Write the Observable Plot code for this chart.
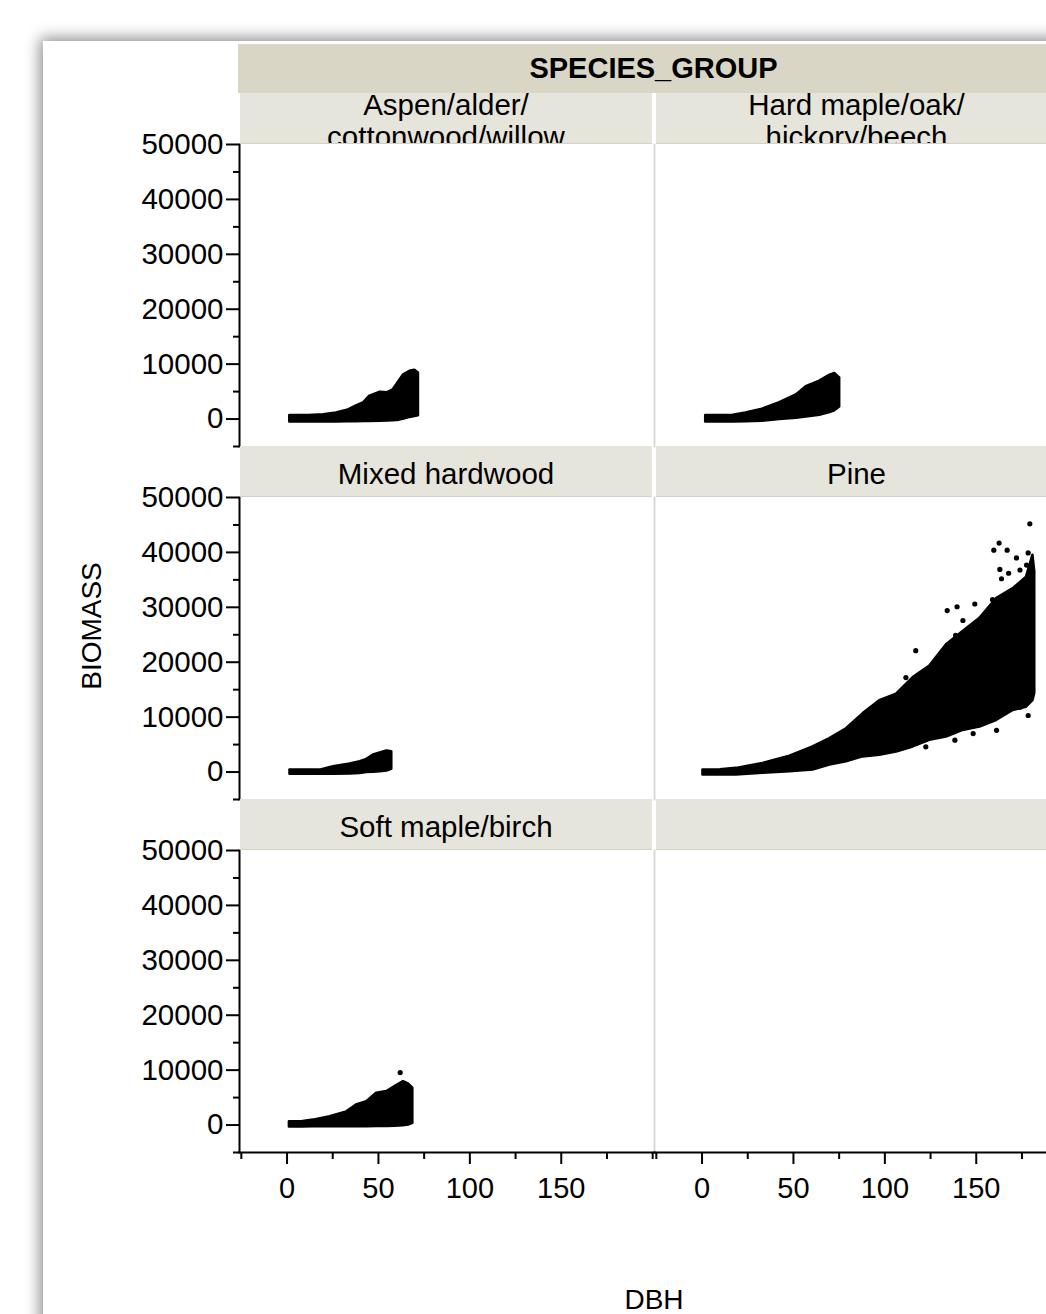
<!DOCTYPE html>
<html>
<head>
<meta charset="utf-8">
<script src="https://cdn.jsdelivr.net/npm/d3@7"></script>
<script src="https://cdn.jsdelivr.net/npm/@observablehq/plot@0.6"></script>
<style>
  html, body { margin: 0; padding: 0; background: #fff; width: 1046px; height: 1314px; overflow: hidden;
    font-family: "Liberation Sans", Arial, sans-serif; color: #000; }
  #panel { position: absolute; left: 43px; top: 41px; width: 1200px; height: 1400px; background: #fff;
    box-shadow: 0 0 14px 3px rgba(0,0,0,0.45); }
  #chart { position: absolute; left: 0; top: 0; }
  .strip { position: absolute; background: #e6e5dc; border-bottom: 1px solid #d3d1c5; box-sizing: border-box;
    display: flex; align-items: center; justify-content: center; text-align: center; overflow: hidden;
    white-space: pre-line; font-size: 29.5px; line-height: 32px; padding-top: 5px; }
  .header { position: absolute; background: #d9d6c6; box-sizing: border-box; display: flex; align-items: center;
    justify-content: center; font-size: 29px; font-weight: bold; overflow: hidden; }
  .lab { position: absolute; font-size: 28px; white-space: nowrap; }
</style>
</head>
<body>
<div id="panel"></div>
<div id="chart"></div>
<div id="overlay"></div>
<script>
// ---- categories ----
const groupTitle = "SPECIES_GROUP";
const speciesNames = ["Aspen/alder/\ncottonwood/willow", "Hard maple/oak/\nhickory/beech", "Mixed hardwood", "Pine", "Soft maple/birch"];
const xLabel = "DBH";
const yLabel = "BIOMASS";

// ---- ticks ----
const yMajor = [0, 10000, 20000, 30000, 40000, 50000];
const yMinor = [-5000, 5000, 15000, 25000, 35000, 45000];
const xMajor = [0, 50, 100, 150];
const xMinor = [-25, 25, 75, 125, 175, 200];

// ---- dense point clouds: DBH with lower / upper edge of BIOMASS ----
const aspenDbh  = [1.5, 12, 20, 27, 33, 38, 42, 45, 51, 55, 58, 61.5, 63.6, 67.2, 69.9, 71.9];
const aspenLow  = [-550, -550, -550, -550, -500, -500, -450, -450, -400, -350, -300, -200, -50, 300, 450, 600];
const aspenHigh = [650, 650, 800, 1100, 1600, 2400, 3000, 4100, 4900, 4800, 5300, 7000, 8000, 8700, 8900, 8400];

const hardDbh  = [2, 10, 17, 24, 33, 42.5, 51.6, 57, 64.4, 70, 72.6, 75.3];
const hardLow  = [-550, -550, -550, -500, -400, -100, 150, 350, 700, 1200, 1500, 2200];
const hardHigh = [650, 650, 700, 1100, 1800, 3000, 4400, 5900, 6900, 8000, 8300, 7500];

const mixedDbh  = [1.6, 10, 18, 25.4, 34.5, 40, 43.6, 47.3, 51, 54.6, 57.3];
const mixedLow  = [-400, -400, -400, -400, -350, -250, -100, -50, 50, 200, 500];
const mixedHigh = [350, 350, 350, 950, 1450, 1900, 2300, 3100, 3500, 3850, 3700];

const pineDbh  = [0.5, 10, 18.8, 33.3, 48, 60.7, 69.9, 79, 88, 97.2, 106.4, 115.5, 124.6, 133.7, 142.8, 152, 161.1, 170.2, 177.5, 181, 182];
const pineLow  = [-540, -540, -540, -230, 50, 360, 1260, 1860, 2760, 3070, 3660, 4570, 5780, 6370, 7580, 8180, 9390, 11200, 11800, 13000, 14300];
const pineHigh = [360, 400, 670, 1570, 2890, 4570, 6080, 7890, 10600, 13000, 14200, 17200, 19300, 23200, 25600, 28000, 31600, 33400, 35500, 39500, 36500];

const softDbh  = [1.3, 8, 14.4, 23.5, 32.7, 38, 43.6, 49, 54.6, 59, 63.7, 66.4, 68.8];
const softLow  = [-350, -350, -300, -300, -300, -300, -300, -250, -250, -200, -150, 0, 300];
const softHigh = [600, 600, 900, 1500, 2400, 3650, 4250, 5800, 6100, 7000, 7900, 7500, 6700];

// ---- isolated points ----
const pineOutDbh = [179.3, 162.5, 159.6, 166.9, 178.4, 172, 162.9, 177.5, 167.7, 173.9, 163.8, 179.3, 158.9, 149.2, 139.5, 134.1, 142.7, 138.7, 116.9, 111.5, 111.5, 100.9, 90.8, 84.5, 161.1, 178.4, 173.9, 148.3, 138.3, 122.4, 176.6];
const pineOutBio = [45200, 41700, 40400, 40400, 39900, 39000, 36900, 37700, 36200, 36800, 35200, 35000, 31400, 30600, 30100, 29400, 27600, 24900, 22100, 17200, 14900, 12900, 10600, 7900, 7600, 10300, 11800, 7000, 5800, 4600, 13300];
const softOutDbh = [61.9];
const softOutBio = [9550];

// ---- tables ----
const clouds = [[aspenDbh, aspenLow, aspenHigh], [hardDbh, hardLow, hardHigh], [mixedDbh, mixedLow, mixedHigh],
                [pineDbh, pineLow, pineHigh], [softDbh, softLow, softHigh]];
const cloudRows = [];
clouds.forEach(([xs, los, his], i) => {
  xs.forEach((x, j) => cloudRows.push({species: speciesNames[i], col: i % 2, row: Math.floor(i / 2), dbh: x, lo: los[j], hi: his[j]}));
});
const pointRows = [];
pineOutDbh.forEach((x, j) => pointRows.push({species: speciesNames[3], col: 1, row: 1, dbh: x, bio: pineOutBio[j]}));
softOutDbh.forEach((x, j) => pointRows.push({species: speciesNames[4], col: 0, row: 2, dbh: x, bio: softOutBio[j]}));

const chart = Plot.plot({
  width: 1100,
  height: 1314,
  marginLeft: 239,
  marginRight: 31,
  marginTop: 144,
  marginBottom: 162,
  facet: {marginTop: 0, marginRight: 0, marginBottom: 0, marginLeft: 0},
  fx: {domain: [0, 1], axis: null, paddingInner: 0, paddingOuter: 0},
  fy: {domain: [0, 1, 2], axis: null, paddingInner: 0.1445, paddingOuter: 0},
  x: {domain: [-26, 201]},
  y: {domain: [-5000, 50000]},
  style: {background: "transparent", maxWidth: "none", fontFamily: "'Liberation Sans', Arial, sans-serif", color: "#000", overflow: "visible"},
  marks: [
    Plot.frame({anchor: "right", facetAnchor: "left", stroke: "#d9d9d9", strokeWidth: 2}),
    Plot.areaY(cloudRows, {x: "dbh", y1: "lo", y2: "hi", fx: "col", fy: "row", fill: "#000", stroke: "#000", strokeWidth: 2.5, strokeLinejoin: "round"}),
    Plot.dot(pointRows, {x: "dbh", y: "bio", fx: "col", fy: "row", r: 2.6, fill: "#000", stroke: null}),
    Plot.frame({anchor: "left", facetAnchor: "left", stroke: "#000", strokeWidth: 2}),
    Plot.frame({anchor: "bottom", facetAnchor: "bottom", stroke: "#000", strokeWidth: 2}),
    Plot.axisY(yMajor, {tickSize: 13, tickPadding: 3, fontSize: 29.5, tickFormat: d => String(d), facetAnchor: "left", label: null, stroke: "#000", strokeWidth: 2, fill: "#000"}),
    Plot.axisY(yMinor, {tickSize: 6, facetAnchor: "left", label: null, stroke: "#000", strokeWidth: 2, fill: "none", tickFormat: () => ""}),
    Plot.axisX(xMajor, {tickSize: 12, tickPadding: 13, fontSize: 29, tickFormat: d => String(d), facetAnchor: "bottom", label: null, stroke: "#000", strokeWidth: 2, fill: "#000"}),
    Plot.axisX(xMinor, {tickSize: 7, facetAnchor: "bottom", label: null, stroke: "#000", strokeWidth: 2, fill: "none", tickFormat: () => ""})
  ]
});
document.getElementById("chart").appendChild(chart);

// ---- facet strips and labels (HTML, positioned from Plot's facet scales) ----
const fxS = chart.scale("fx"), fyS = chart.scale("fy");
const bw = fxS.bandwidth, gap = fyS.step - fyS.bandwidth;
const overlay = document.getElementById("overlay");
const x0 = fxS.apply(0), y0 = fyS.apply(0);

const header = document.createElement("div");
header.className = "header";
Object.assign(header.style, {left: (x0 - 1) + "px", top: (y0 - gap - 49) + "px", width: (2 * bw + 1) + "px", height: "49px"});
header.textContent = groupTitle;
overlay.appendChild(header);

for (let r = 0; r < 3; r++) {
  for (let c = 0; c < 2; c++) {
    const i = r * 2 + c;
    const s = document.createElement("div");
    s.className = "strip";
    const left = fxS.apply(c) + (c === 0 ? 1 : 2);
    const w = bw - (c === 0 ? 3 : 2);
    Object.assign(s.style, {left: left + "px", top: (fyS.apply(r) - gap) + "px", width: w + "px", height: gap + "px",
      paddingRight: c === 1 ? "12px" : "0px"});
    s.textContent = i < speciesNames.length ? speciesNames[i] : "";
    overlay.appendChild(s);
  }
}

const yl = document.createElement("div");
yl.className = "lab";
yl.textContent = yLabel;
Object.assign(yl.style, {left: "92px", top: "626px", transform: "translate(-50%,-50%) rotate(-90deg)"});
overlay.appendChild(yl);

const xl = document.createElement("div");
xl.className = "lab";
xl.textContent = xLabel;
Object.assign(xl.style, {left: (x0 + bw) + "px", top: "1300px", transform: "translate(-50%,-50%)"});
overlay.appendChild(xl);
</script>
</body>
</html>
